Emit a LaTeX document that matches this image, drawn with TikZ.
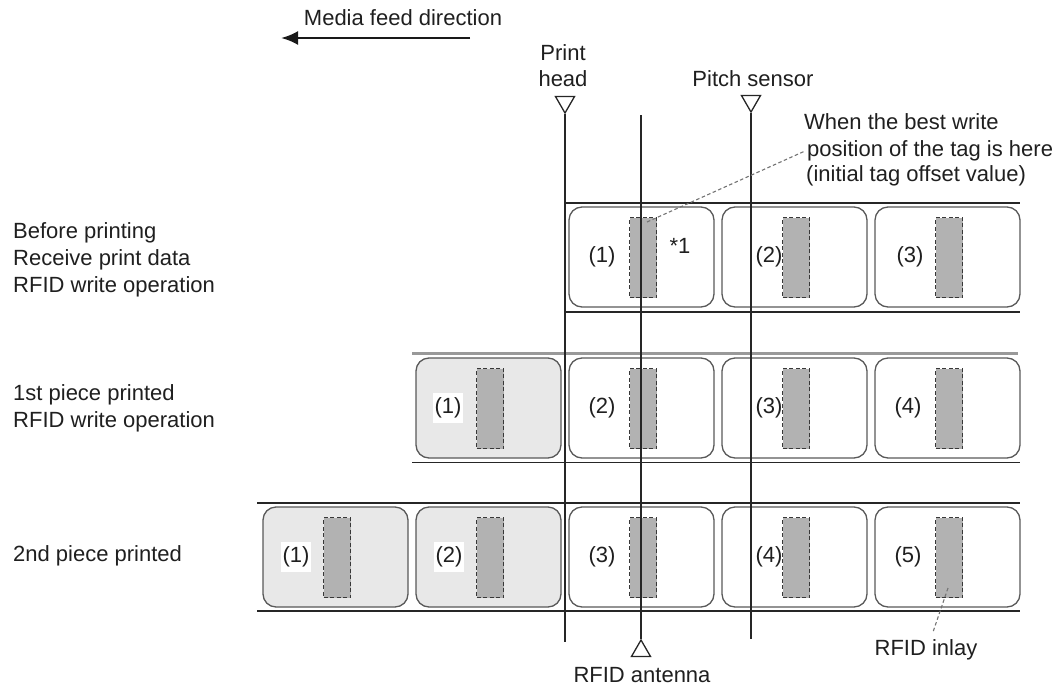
\documentclass[tikz,border=0pt]{standalone}
\usepackage{fontspec}
\setmainfont{Liberation Sans}
\usetikzlibrary{arrows.meta,shapes.geometric}
\tikzset{
  txt/.style={inner sep=0pt, font=\fontsize{22}{26}\selectfont, text=black!88},
  lbl/.style={draw=black!65, line width=1.3pt, rounded corners=13pt, minimum width=145pt, minimum height=100pt, inner sep=0pt, outer sep=0pt, anchor=north west},
  lbl/p/.style={fill=black!9},
  lbl/u/.style={},
  tagbox/.style={draw=black!78, fill=black!30, line width=1.4pt, dash pattern=on 4pt off 2.5pt, minimum width=27pt, minimum height=80pt, inner sep=0pt, anchor=north west},
  num/.style={txt, inner xsep=1.5pt, minimum height=30pt},
  num/p/.style={fill=white},
  num/u/.style={},
  rowline/.style={draw=black!85, line width=1.5pt},
  rowlinegray/.style={draw=black!40, line width=2.2pt},
  vline/.style={draw=black!85, line width=1.4pt},
  marker/.style={regular polygon, regular polygon sides=3, draw=black!85, line width=1.3pt, minimum size=22pt, inner sep=0pt},
  leader/.style={draw=black!55, line width=1.1pt, dash pattern=on 3.5pt off 2.5pt},
}
\newcommand{\mkcell}[6]{%
  \node[lbl, lbl/#5] (L#1) at (#2,#3) {};
  \node[tagbox] (T#1) at (#2+60,#3+10) {};
  \node[num, num/#5] (N#1) at (#2+#6,#3+50) {(#4)};
}
\begin{document}
\begin{tikzpicture}[x=1pt,y=-1pt]
\useasboundingbox (0,0) rectangle (1060,688);

% header
\node[txt, anchor=base] (mfd) at (403,25) {Media feed direction};
\coordinate (mfa1) at (470,38);
\coordinate (mfa2) at (281,38);
\draw[line width=2.6pt, draw=black!90, -{Latex[length=17pt,width=14pt]}] (mfa1) -- (mfa2);

\node[txt, anchor=base] (ph1) at (563,60) {Print};
\node[txt, anchor=base] (ph2) at (563,86) {head};
\node[txt, anchor=base] (psl) at (753,86) {Pitch sensor};

% left texts
\node[txt, anchor=base west] (a1) at (13,238) {Before printing};
\node[txt, anchor=base west] (a2) at (13,265) {Receive print data};
\node[txt, anchor=base west] (a3) at (13,292) {RFID write operation};
\node[txt, anchor=base west] (b1) at (13,400) {1st piece printed};
\node[txt, anchor=base west] (b2) at (13,427) {RFID write operation};
\node[txt, anchor=base west] (c1) at (13,561) {2nd piece printed};

% row lines
\coordinate (r1tl) at (565,203);  \coordinate (r1tr) at (1020,203);
\coordinate (r1bl) at (565,312);  \coordinate (r1br) at (1020,312);
\coordinate (r2tl) at (412,353.5);\coordinate (r2tr) at (1018,353.5);
\coordinate (r2bl) at (412,462.5);\coordinate (r2br) at (1020,462.5);
\coordinate (r3tl) at (257,503);  \coordinate (r3tr) at (1020,503);
\coordinate (r3bl) at (257,611);  \coordinate (r3br) at (1020,611);
\draw[rowline] (r1tl) -- (r1tr);
\draw[rowline] (r1bl) -- (r1br);
\draw[rowlinegray] (r2tl) -- (r2tr);
\draw[rowline] (r2bl) -- (r2br);
\draw[rowline] (r3tl) -- (r3tr);
\draw[rowline] (r3bl) -- (r3br);

% labels
\mkcell{13}{569}{207}{1}{u}{33}
\mkcell{14}{722}{207}{2}{u}{47}
\mkcell{15}{875}{207}{3}{u}{35}

\mkcell{22}{416}{358}{1}{p}{32}
\mkcell{23}{569}{358}{2}{u}{33}
\mkcell{24}{722}{358}{3}{u}{47}
\mkcell{25}{875}{358}{4}{u}{33}

\mkcell{31}{263}{507}{1}{p}{33}
\mkcell{32}{416}{507}{2}{p}{33}
\mkcell{33}{569}{507}{3}{u}{33}
\mkcell{34}{722}{507}{4}{u}{47}
\mkcell{35}{875}{507}{5}{u}{33}

\node[txt, anchor=base] (star) at (680,253) {*1};

% vertical reference lines
\node[marker, shape border rotate=180] (phm) at (565,102) {};
\coordinate (phb) at (565,642);
\draw[vline] (phm.corner 1) -- (phb);

\node[marker, shape border rotate=180] (psm) at (751,101) {};
\coordinate (psb) at (751,639);
\draw[vline] (psm.corner 1) -- (psb);

\node[marker] (anm) at (641,651) {};
\coordinate (ant) at (641,115);
\draw[vline] (ant) -- (anm.corner 1);
\node[txt, anchor=base] (anl) at (642,682) {RFID antenna};

% callout
\node[txt, anchor=base west] (co1) at (804,129) {When the best write};
\node[txt, anchor=base west] (co2) at (807,156) {position of the tag is here};
\node[txt, anchor=base west] (co3) at (806,181) {(initial tag offset value)};
\coordinate (cs) at (647,222);
\coordinate (ce) at (805,151);
\draw[leader] (cs) -- (ce);

% RFID inlay
\node[txt, anchor=base] (inl) at (926,655) {RFID inlay};
\coordinate (is) at (948,588);
\coordinate (ie) at (933,632);
\draw[leader] (is) -- (ie);
\end{tikzpicture}
\end{document}
